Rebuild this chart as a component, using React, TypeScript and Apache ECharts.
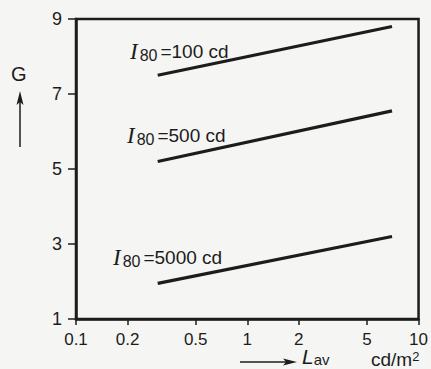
import React, { useEffect, useRef } from "react";
import * as echarts from "echarts";

// Luminance L_av (cd/m²) at the start and end of each line
const lav = [0.3, 7];
// Glare index G for each luminous intensity I80
const g100 = [7.5, 8.8];
const g500 = [5.2, 6.55];
const g5000 = [1.95, 3.2];
const seriesNames = ["100 cd", "500 cd", "5000 cd"];
const xTickValues = [0.1, 0.2, 0.5, 1, 2, 5, 10];
const yMin = 1;
const yMax = 9;
const yStep = 2;

const INK = "#1c1c1c";
const SANS = "'Liberation Sans', Arial, sans-serif";
const SERIF = "'Liberation Serif', 'Times New Roman', serif";

function pairs(ys: number[]) {
  return lav.map((x, i) => [x, ys[i]]);
}

function labelText(left: number, top: number, value: string) {
  return {
    type: "text",
    left,
    top,
    silent: true,
    style: {
      text: `{i|I}{s|80}{n|=${value}}`,
      rich: {
        i: { fontFamily: SERIF, fontStyle: "italic", fontSize: 23, fill: INK, lineHeight: 24, verticalAlign: "middle", padding: [0, 2, 0, 0] },
        s: { fontFamily: SANS, fontSize: 16, fill: INK, lineHeight: 15, verticalAlign: "bottom" },
        n: { fontFamily: SANS, fontSize: 19, fill: INK, lineHeight: 24, verticalAlign: "middle", padding: [0, 0, 0, 3] },
      },
    },
  };
}

export default function App() {
  const ref = useRef<HTMLDivElement>(null);
  useEffect(() => {
    if (!ref.current) return;
    const chart = echarts.init(ref.current, null, { renderer: "svg" });
    const lineSeries = [g100, g500, g5000].map((ys, i) => ({
      name: seriesNames[i],
      type: "line",
      data: pairs(ys),
      symbol: "none",
      silent: true,
      lineStyle: { color: INK, width: 3.2 },
    }));
    chart.setOption({
      animation: false,
      backgroundColor: "#f5f5f3",
      grid: {
        left: 76,
        right: 9,
        top: 19,
        bottom: 50,
        show: true,
        borderColor: INK,
        borderWidth: 2.5,
        containLabel: false,
      },
      xAxis: {
        type: "log",
        logBase: 10,
        min: 0.1,
        max: 10,
        axisLine: { lineStyle: { color: INK, width: 2.5 } },
        axisTick: {
          show: true,
          inside: false,
          length: 6,
          customValues: xTickValues,
          lineStyle: { color: INK, width: 1.5 },
        },
        minorTick: { show: false },
        axisLabel: {
          customValues: xTickValues,
          formatter: (v: number) => String(v),
          color: INK,
          fontFamily: SANS,
          fontSize: 17,
          margin: 12,
          showMinLabel: true,
          showMaxLabel: true,
          hideOverlap: false,
        },
        splitLine: { show: false },
      },
      yAxis: {
        type: "value",
        min: yMin,
        max: yMax,
        interval: yStep,
        axisLine: { show: true, lineStyle: { color: INK, width: 2.5 } },
        axisTick: { show: true, inside: false, length: 8, lineStyle: { color: INK, width: 1.5 } },
        axisLabel: { color: INK, fontFamily: SANS, fontSize: 18, margin: 14 },
        splitLine: { show: false },
      },
      series: lineSeries,
      graphic: [
        labelText(130, 40, "100 cd"),
        labelText(127, 124, "500 cd"),
        labelText(113, 246, "5000 cd"),
        {
          type: "text",
          left: 11,
          top: 64,
          silent: true,
          style: { text: "G", fontFamily: SANS, fontSize: 20, fill: INK },
        },
        {
          type: "line",
          silent: true,
          shape: { x1: 20, y1: 147, x2: 20, y2: 100 },
          style: { stroke: INK, lineWidth: 1.5 },
        },
        {
          type: "polygon",
          silent: true,
          shape: { points: [[20, 91], [16.5, 105], [20, 102], [23.5, 105]] },
          style: { fill: INK },
        },
        {
          type: "line",
          silent: true,
          shape: { x1: 240, y1: 362, x2: 288, y2: 362 },
          style: { stroke: INK, lineWidth: 1.5 },
        },
        {
          type: "polygon",
          silent: true,
          shape: { points: [[297, 362], [283, 358.5], [286, 362], [283, 365.5]] },
          style: { fill: INK },
        },
        {
          type: "text",
          left: 302,
          top: 346,
          silent: true,
          style: {
            text: "{L|L}{s|av}",
            rich: {
              L: { fontFamily: SANS, fontStyle: "italic", fontSize: 21, fill: INK, lineHeight: 21, verticalAlign: "middle" },
              s: { fontFamily: SANS, fontSize: 15, fill: INK, lineHeight: 14, verticalAlign: "bottom" },
            },
          },
        },
        {
          type: "text",
          left: 371,
          top: 350,
          silent: true,
          style: {
            text: "{c|cd/m}{p|2}",
            rich: {
              c: { fontFamily: SANS, fontSize: 19, fill: INK, lineHeight: 19, verticalAlign: "middle" },
              p: { fontFamily: SANS, fontSize: 13, fill: INK, lineHeight: 13, verticalAlign: "top" },
            },
          },
        },
      ],
    });
    return () => chart.dispose();
  }, []);
  return (
    <div
      ref={ref}
      style={{ position: "fixed", left: 0, top: 0, width: 431, height: 369 }}
    />
  );
}
